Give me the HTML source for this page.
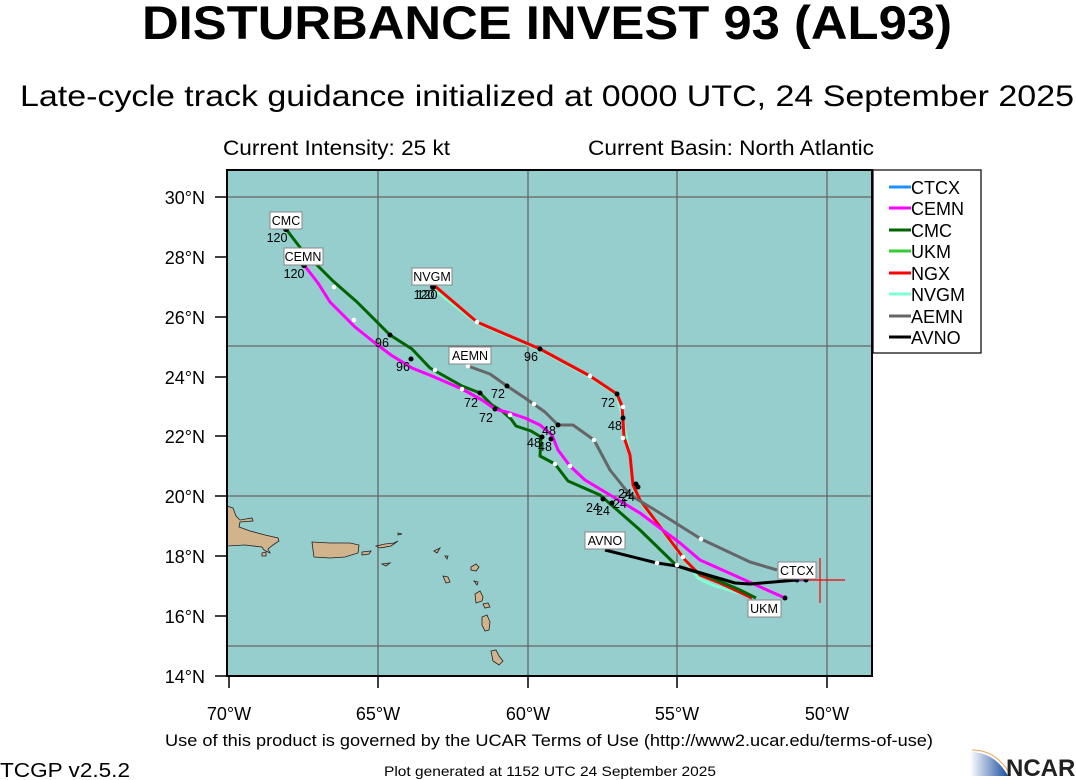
<!DOCTYPE html>
<html><head><meta charset="utf-8"><style>
html,body{margin:0;padding:0;background:#fff;}
svg{display:block;font-family:"Liberation Sans",sans-serif;}
</style></head><body>
<svg width="1076" height="780" viewBox="0 0 1076 780" xmlns="http://www.w3.org/2000/svg">
<text x="142" y="39" font-size="47" font-weight="bold" textLength="810" lengthAdjust="spacingAndGlyphs">DISTURBANCE INVEST 93 (AL93)</text>
<text x="20" y="106" font-size="30" textLength="1054" lengthAdjust="spacingAndGlyphs">Late-cycle track guidance initialized at 0000 UTC, 24 September 2025</text>
<text x="223" y="155" font-size="21" textLength="227" lengthAdjust="spacingAndGlyphs">Current Intensity: 25 kt</text>
<text x="588" y="155" font-size="21" textLength="286" lengthAdjust="spacingAndGlyphs">Current Basin: North Atlantic</text>

<rect x="227" y="170" width="645" height="506" fill="#96cdcd"/>
<g stroke="#666" stroke-width="1.3">
<line x1="227" y1="197" x2="872" y2="197"/><line x1="227" y1="346" x2="872" y2="346"/>
<line x1="227" y1="496" x2="872" y2="496"/><line x1="227" y1="646" x2="872" y2="646"/>
<line x1="378" y1="170" x2="378" y2="676"/><line x1="528" y1="170" x2="528" y2="676"/>
<line x1="677" y1="170" x2="677" y2="676"/><line x1="827" y1="170" x2="827" y2="676"/>
</g>
<g fill="#d2b48c" stroke="#222" stroke-width="0.8">
<path d="M227,506 L233,508 L236,516 L240,520 L252,518 L253,521 L240,522 L239,527 L250,531 L265,535 L278,538 L279,541 L273,545 L268,549 L270,553 L264,550 L262,547 L245,545 L227,546 Z"/>
<path d="M312,542 L330,543 L350,543 L359,545 L358,553 L345,557 L330,558 L314,557 L313,550 Z"/>
<path d="M262,553 L266,552 L266,556 L262,556 Z"/>
<path d="M362,552 L371,551 L369,554 L362,555 Z"/>
<path d="M376,546 L385,544 L394,543 L398,541 L391,546 L380,548 Z"/>
<path d="M382,564 L390,563 L386,566 Z"/>
<path d="M398,533 L402,534 L398,535 Z"/>
<path d="M434,551 L440,548 L437,553 Z"/>
<path d="M445,556 L448,556 L447,559 Z"/>
<path d="M471,567 L476,564 L479,567 L476,571 L471,570 Z"/>
<path d="M474,581 L478,582 L477,585 Z"/>
<path d="M475,594 L480,591 L483,597 L482,601 L476,603 Z"/>
<path d="M483,604 L488,603 L490,607 L485,608 Z"/>
<path d="M482,617 L487,615 L490,622 L489,630 L485,631 L482,625 Z"/>
<path d="M491,651 L496,650 L499,656 L503,661 L499,665 L493,661 Z"/>
<path d="M443,576 L448,577 L450,582 L446,583 Z"/>
</g>
<rect x="227" y="170" width="645" height="506" fill="none" stroke="#000" stroke-width="2"/>
<g stroke="#000" stroke-width="1.5">
<line x1="215" y1="197" x2="227" y2="197"/><line x1="215" y1="257" x2="227" y2="257"/>
<line x1="215" y1="317" x2="227" y2="317"/><line x1="215" y1="377" x2="227" y2="377"/>
<line x1="215" y1="436" x2="227" y2="436"/><line x1="215" y1="496" x2="227" y2="496"/>
<line x1="215" y1="556" x2="227" y2="556"/><line x1="215" y1="616" x2="227" y2="616"/>
<line x1="215" y1="676" x2="227" y2="676"/>
<line x1="229" y1="676" x2="229" y2="688"/><line x1="378" y1="676" x2="378" y2="688"/>
<line x1="528" y1="676" x2="528" y2="688"/><line x1="677" y1="676" x2="677" y2="688"/>
<line x1="827" y1="676" x2="827" y2="688"/>
</g>
<g font-size="18" text-anchor="end">
<text x="205" y="204">30°N</text><text x="205" y="264">28°N</text><text x="205" y="324">26°N</text>
<text x="205" y="384">24°N</text><text x="205" y="443">22°N</text><text x="205" y="503">20°N</text>
<text x="205" y="563">18°N</text><text x="205" y="623">16°N</text><text x="205" y="683">14°N</text>
</g>
<g font-size="18" text-anchor="middle">
<text x="229" y="720">70°W</text><text x="378" y="720">65°W</text><text x="528" y="720">60°W</text>
<text x="677" y="720">55°W</text><text x="827" y="720">50°W</text>
</g>
<g fill="none" stroke-width="3" stroke-linejoin="round">
<polyline stroke="#7fffd4" points="432,288 477,323 540,350 590,377 617,395 623,420 630,456 633,486 640,501 655,521 685,561 698,578 712,585 752,597"/>
<polyline stroke="#ff0000" points="432,287 436,287 477,322 540,349 590,376 617,394 622,406 623,420 624,437 630,455 633,485 640,500 655,520 685,560 700,575 720,583 752,598"/>
<polyline stroke="#666666" points="468,366 490,374 507,386 525,398 545,412 558,425 573,425 594,440 610,470 630,495 655,510 701,539 750,562 777,570"/>
<polyline stroke="#006400" points="286,229 302,250 333,281 357,302 390,335 412,349 430,368 462,386 480,393 492,405 502,411 511,419 516,426 531,431 541,437 540,456 555,464 568,481 600,495 640,530 677,566 705,575 740,590 756,598"/>
<polyline stroke="#ff00ff" points="304,265 318,283 330,302 355,327 375,343 391,355 412,368 432,376 462,389 482,400 495,409 510,413 525,418 540,425 552,435 558,450 570,466 585,480 610,495 640,513 680,543 700,560 785,598"/>
<polyline stroke="#000" points="605,550 657,563 677,566 735,583 750,584 797,580"/>
<line stroke="#1e90ff" x1="797" y1="580" x2="806" y2="580"/>
</g>
<g stroke="#ff0000" stroke-width="1.2">
<line x1="820" y1="558" x2="820" y2="603"/><line x1="800" y1="580" x2="845" y2="580"/>
</g>
<g fill="#000">
<circle cx="286" cy="229" r="3"/><circle cx="304" cy="265" r="3"/><circle cx="433" cy="287" r="3"/>
<circle cx="390" cy="335" r="2.5"/><circle cx="411" cy="359" r="2.5"/><circle cx="540" cy="349" r="2.5"/>
<circle cx="507" cy="386" r="2.5"/><circle cx="480" cy="393" r="2.5"/><circle cx="495" cy="409" r="2.5"/>
<circle cx="617" cy="394" r="2.5"/><circle cx="623" cy="418" r="2.5"/><circle cx="542" cy="437" r="2.5"/>
<circle cx="551" cy="439" r="2.5"/><circle cx="558" cy="425" r="2.5"/><circle cx="636" cy="484" r="2.5"/>
<circle cx="638" cy="487" r="2.5"/><circle cx="603" cy="499" r="2.5"/><circle cx="612" cy="503" r="2.5"/>
<circle cx="797" cy="580" r="2.5"/><circle cx="806" cy="580" r="2.5"/><circle cx="785" cy="598" r="2.5"/>
<circle cx="764" cy="615" r="2.5"/><circle cx="779" cy="613" r="2.5"/>
</g>
<g fill="#fff">
<circle cx="334" cy="287" r="2.3"/><circle cx="354" cy="320" r="2.3"/><circle cx="435" cy="370" r="2.3"/>
<circle cx="462" cy="389" r="2.3"/><circle cx="510" cy="415" r="2.3"/><circle cx="468" cy="366" r="2.3"/>
<circle cx="534" cy="404" r="2.3"/><circle cx="477" cy="322" r="2.3"/><circle cx="590" cy="376" r="2.3"/>
<circle cx="623" cy="407" r="2.3"/><circle cx="623" cy="438" r="2.3"/><circle cx="594" cy="440" r="2.3"/>
<circle cx="570" cy="466" r="2.3"/><circle cx="555" cy="464" r="2.3"/><circle cx="701" cy="539" r="2.3"/>
<circle cx="657" cy="563" r="2.3"/><circle cx="677" cy="565" r="2.3"/><circle cx="683" cy="557" r="2.3"/>
</g>
<g font-size="12.5" text-anchor="middle">
<rect x="270" y="212" width="32" height="17" fill="#fff" stroke="#888"/><text x="286" y="225">CMC</text>
<rect x="284" y="248" width="39" height="17" fill="#fff" stroke="#888"/><text x="303" y="261">CEMN</text>
<rect x="412" y="268" width="40" height="17" fill="#fff" stroke="#888"/><text x="432" y="281">NVGM</text>
<rect x="449" y="347" width="42" height="17" fill="#fff" stroke="#888"/><text x="470" y="360">AEMN</text>
<rect x="585" y="532" width="40" height="17" fill="#fff" stroke="#888"/><text x="605" y="545">AVNO</text>
<rect x="778" y="562" width="38" height="17" fill="#fff" stroke="#888"/><text x="797" y="575">CTCX</text>
<rect x="748" y="600" width="33" height="17" fill="#fff" stroke="#888"/><text x="764" y="613">UKM</text>
<text x="277" y="242">120</text><text x="294" y="278">120</text><text x="424" y="299">120</text><text x="427" y="299">120</text>
<text x="382" y="347">96</text><text x="403" y="371">96</text><text x="531" y="361">96</text>
<text x="471" y="407">72</text><text x="486" y="422">72</text><text x="498" y="398">72</text><text x="608" y="407">72</text>
<text x="534" y="447">48</text><text x="549" y="435">48</text><text x="545" y="451">48</text><text x="615" y="430">48</text>
<text x="593" y="512">24</text><text x="603" y="515">24</text><text x="620" y="508">24</text><text x="625" y="498">24</text><text x="628" y="501">24</text>
</g>
<rect x="873" y="170" width="108" height="183" fill="#fff" stroke="#000" stroke-width="1.2"/>
<g stroke-width="3">
<line x1="889" y1="187" x2="911" y2="187" stroke="#1e90ff"/>
<line x1="889" y1="208" x2="911" y2="208" stroke="#ff00ff"/>
<line x1="889" y1="230" x2="911" y2="230" stroke="#006400"/>
<line x1="889" y1="251" x2="911" y2="251" stroke="#32cd32"/>
<line x1="889" y1="273" x2="911" y2="273" stroke="#ff0000"/>
<line x1="889" y1="294" x2="911" y2="294" stroke="#7fffd4"/>
<line x1="889" y1="316" x2="911" y2="316" stroke="#666"/>
<line x1="889" y1="337" x2="911" y2="337" stroke="#000"/>
</g>
<g font-size="18">
<text x="911" y="194">CTCX</text><text x="911" y="215">CEMN</text><text x="911" y="237">CMC</text>
<text x="911" y="258">UKM</text><text x="911" y="280">NGX</text><text x="911" y="301">NVGM</text>
<text x="911" y="323">AEMN</text><text x="911" y="344">AVNO</text>
</g>
<text x="165" y="746" font-size="17" textLength="768" lengthAdjust="spacingAndGlyphs">Use of this product is governed by the UCAR Terms of Use (http://www2.ucar.edu/terms-of-use)</text>
<text x="0" y="777" font-size="20" textLength="130" lengthAdjust="spacingAndGlyphs">TCGP v2.5.2</text>
<text x="384" y="776" font-size="14" textLength="332" lengthAdjust="spacingAndGlyphs">Plot generated at 1152 UTC   24 September 2025</text>
<defs><linearGradient id="g" x1="0" x2="1"><stop offset="0" stop-color="#fff"/><stop offset="1" stop-color="#1a4fa0"/></linearGradient></defs>
<path d="M970,752 Q995,752 1008,776 L970,776 Z" fill="url(#g)"/>
<path d="M972,750 Q996,750 1010,774" fill="none" stroke="#f0a050" stroke-width="1"/>
<text x="1006" y="776" font-size="24" font-weight="bold" fill="#222">NCAR</text>
</svg>
</body></html>
